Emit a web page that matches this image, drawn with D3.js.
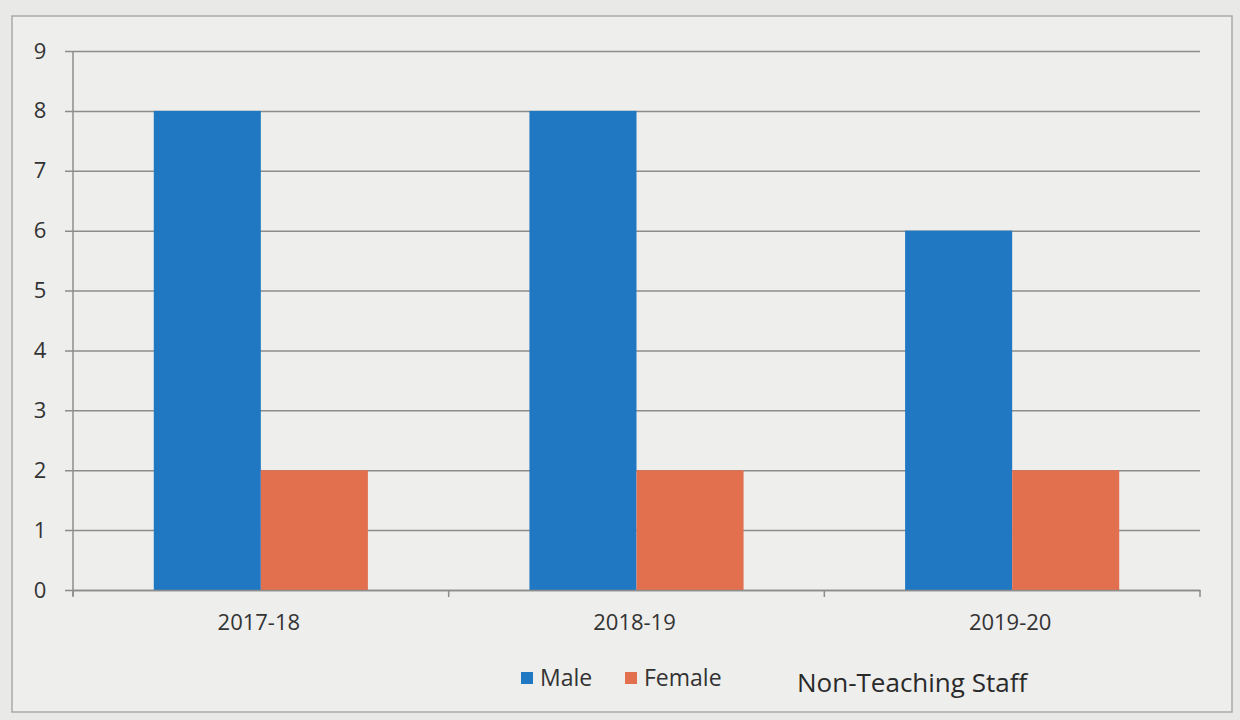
<!DOCTYPE html>
<html><head><meta charset="utf-8">
<script src="https://cdn.jsdelivr.net/npm/d3@7"></script>
<style>
html,body{margin:0;padding:0;background:#e9e9e8;}
svg{display:block;font-family:"Open Sans","Noto Sans",sans-serif;}
</style></head>
<body><svg id="c" width="1240" height="720"></svg>
<script>
const categories = ["2017-18","2018-19","2019-20"];
const seriesNames = ["Male","Female"];
const maleValues = [8,8,6];
const femaleValues = [2,2,2];
const yTicks = [0,1,2,3,4,5,6,7,8,9];
const chartTitle = "Non-Teaching Staff";
const colors = {Male:"#1f78c1", Female:"#e2704f"};
const FONT = '"Open Sans","Noto Sans",sans-serif';

const svg = d3.select("#c");
// outer frame
svg.append("rect").attr("x",12).attr("y",16).attr("width",1220).attr("height",696)
  .attr("fill","#eeeeed").attr("stroke","#a9a9a9").attr("stroke-width",1.5);

const m = {left:73, right:1200, top:51, bottom:590};
const x0 = d3.scaleBand().domain(categories).range([m.left,m.right]).paddingInner(0.43).paddingOuter(0.215);
const x1 = d3.scaleBand().domain(seriesNames).range([0,x0.bandwidth()]);
const y = d3.scaleLinear().domain([0,9]).range([m.bottom,m.top]);

// gridlines
const yAxis = d3.axisLeft(y).tickValues(yTicks).tickSize(-(m.right-m.left)).tickPadding(20).tickFormat(d3.format("d"));
const gy = svg.append("g").attr("transform",`translate(${m.left},0)`).call(yAxis).attr("font-family",FONT);
gy.select(".domain").remove();
gy.selectAll(".tick line").attr("stroke","#8c8c8c").attr("stroke-width",1.5).attr("x1",-8);
gy.selectAll(".tick text").attr("font-size",22).attr("fill","#333").attr("text-anchor","middle").attr("x",-33);
// vertical axis line
svg.append("line").attr("x1",m.left).attr("x2",m.left).attr("y1",m.top).attr("y2",m.bottom+6)
  .attr("stroke","#8c8c8c").attr("stroke-width",1.5);

// bars
const data = categories.map((c,i)=>({cat:c, vals:[{k:"Male",v:maleValues[i]},{k:"Female",v:femaleValues[i]}]}));
const g = svg.append("g").selectAll("g").data(data).join("g").attr("transform",d=>`translate(${x0(d.cat)},0)`);
g.selectAll("rect").data(d=>d.vals).join("rect")
  .attr("x",d=>x1(d.k)).attr("width",x1.bandwidth())
  .attr("y",d=>y(d.v)).attr("height",d=>y(0)-y(d.v))
  .attr("fill",d=>colors[d.k]);

// category axis
const xAxis = d3.axisBottom(d3.scaleBand().domain(categories).range([m.left,m.right])).tickSize(0).tickPadding(24);
const gx = svg.append("g").attr("transform",`translate(0,${m.bottom})`).call(xAxis).attr("font-family",FONT);
gx.select(".domain").attr("stroke","#8c8c8c").attr("stroke-width",1.5);
gx.selectAll(".tick text").attr("font-size",22).attr("fill","#333").attr("dx",-2);
// boundary ticks between categories
const bw = (m.right-m.left)/categories.length;
svg.append("g").selectAll("line").data(d3.range(categories.length+1)).join("line")
  .attr("x1",i=>m.left+i*bw).attr("x2",i=>m.left+i*bw).attr("y1",m.bottom).attr("y2",m.bottom+7)
  .attr("stroke","#8c8c8c").attr("stroke-width",1.5);

// legend
const lg = svg.append("g").attr("transform","translate(521,678)");
const items = [{k:"Male",x:0},{k:"Female",x:104}];
items.forEach(it=>{
  lg.append("rect").attr("x",it.x).attr("y",-6).attr("width",12).attr("height",12).attr("fill",colors[it.k]);
  lg.append("text").attr("x",it.x+19).attr("y",0).attr("dy","0.35em").attr("font-size",23).attr("fill","#333").text(it.k);
});
svg.append("text").attr("x",797).attr("y",683).attr("dy","0.35em").attr("font-size",26).attr("fill","#2a2a2a").text(chartTitle);
</script></body></html>
